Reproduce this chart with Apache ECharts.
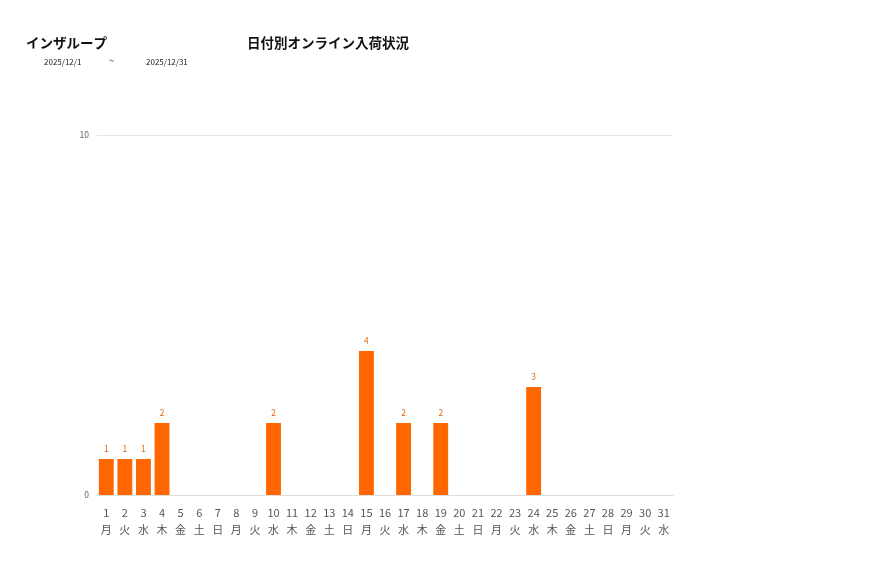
<!DOCTYPE html>
<html><head><meta charset="utf-8">
<script src="https://cdn.jsdelivr.net/npm/echarts@6/dist/echarts.min.js"></script>
<style>html,body{margin:0;padding:0;background:#fff}#c{width:877px;height:578px}</style>
</head><body><div id="c"></div>
<script>
const days = ['1','2','3','4','5','6','7','8','9','10','11','12','13','14','15','16','17','18','19','20','21','22','23','24','25','26','27','28','29','30','31'];
const weekdays = ['月','火','水','木','金','土','日','月','火','水','木','金','土','日','月','火','水','木','金','土','日','月','火','水','木','金','土','日','月','火','水'];
const values = [1,1,1,2,0,0,0,0,0,2,0,0,0,0,4,0,2,0,2,0,0,0,0,3,0,0,0,0,0,0,0];
const yTicks = [0, 10];
const titleText = 'インザループ';
const chartTitle = '日付別オンライン入荷状況';
const dateFrom = '2025/12/1';
const dateTo = '2025/12/31';

const categories = days.map((d,i)=> d + '\n' + weekdays[i]);
const chart = echarts.init(document.getElementById('c'));
const font = "'Noto Sans CJK JP', 'Noto Sans', sans-serif";
chart.setOption({
  animation:false,
  textStyle:{fontFamily:font},
  title:[
    {text:titleText,left:21,top:31,textStyle:{fontSize:13.5,fontWeight:'bold',color:'#111',fontFamily:font}},
    {text:chartTitle,left:242,top:31,textStyle:{fontSize:13.5,fontWeight:'bold',color:'#111',fontFamily:font}},
    {text:dateFrom,left:39,top:53,textStyle:{fontSize:8,fontWeight:'normal',color:'#222',fontFamily:font}},
    {text:'~',left:104,top:51,textStyle:{fontSize:9,fontWeight:'normal',color:'#222',fontFamily:font}},
    {text:dateTo,left:141,top:53,textStyle:{fontSize:8,fontWeight:'normal',color:'#222',fontFamily:font}}
  ],
  grid:{left:97,right:204,top:135,bottom:83,containLabel:false},
  xAxis:{type:'category',data:categories,
    axisLine:{lineStyle:{color:'#ddd'}},axisTick:{show:false},
    axisLabel:{interval:0,fontSize:11,color:'#555',lineHeight:17,margin:9,fontFamily:font}},
  yAxis:{type:'value',min:yTicks[0],max:yTicks[1],interval:yTicks[1]-yTicks[0],
    axisLine:{show:false},axisTick:{show:false},
    axisLabel:{fontSize:8.5,color:'#666',margin:8},
    splitLine:{lineStyle:{color:'#e6e6e6'}}},
  series:[{type:'bar',data:values.map(v=>v===0?{value:v,label:{show:false}}:v),barCategoryGap:'20%',
    itemStyle:{color:'#FF6600'},
    label:{show:true,position:'top',fontSize:8.5,color:'#E06A1A',distance:6}}]
});
</script></body></html>
